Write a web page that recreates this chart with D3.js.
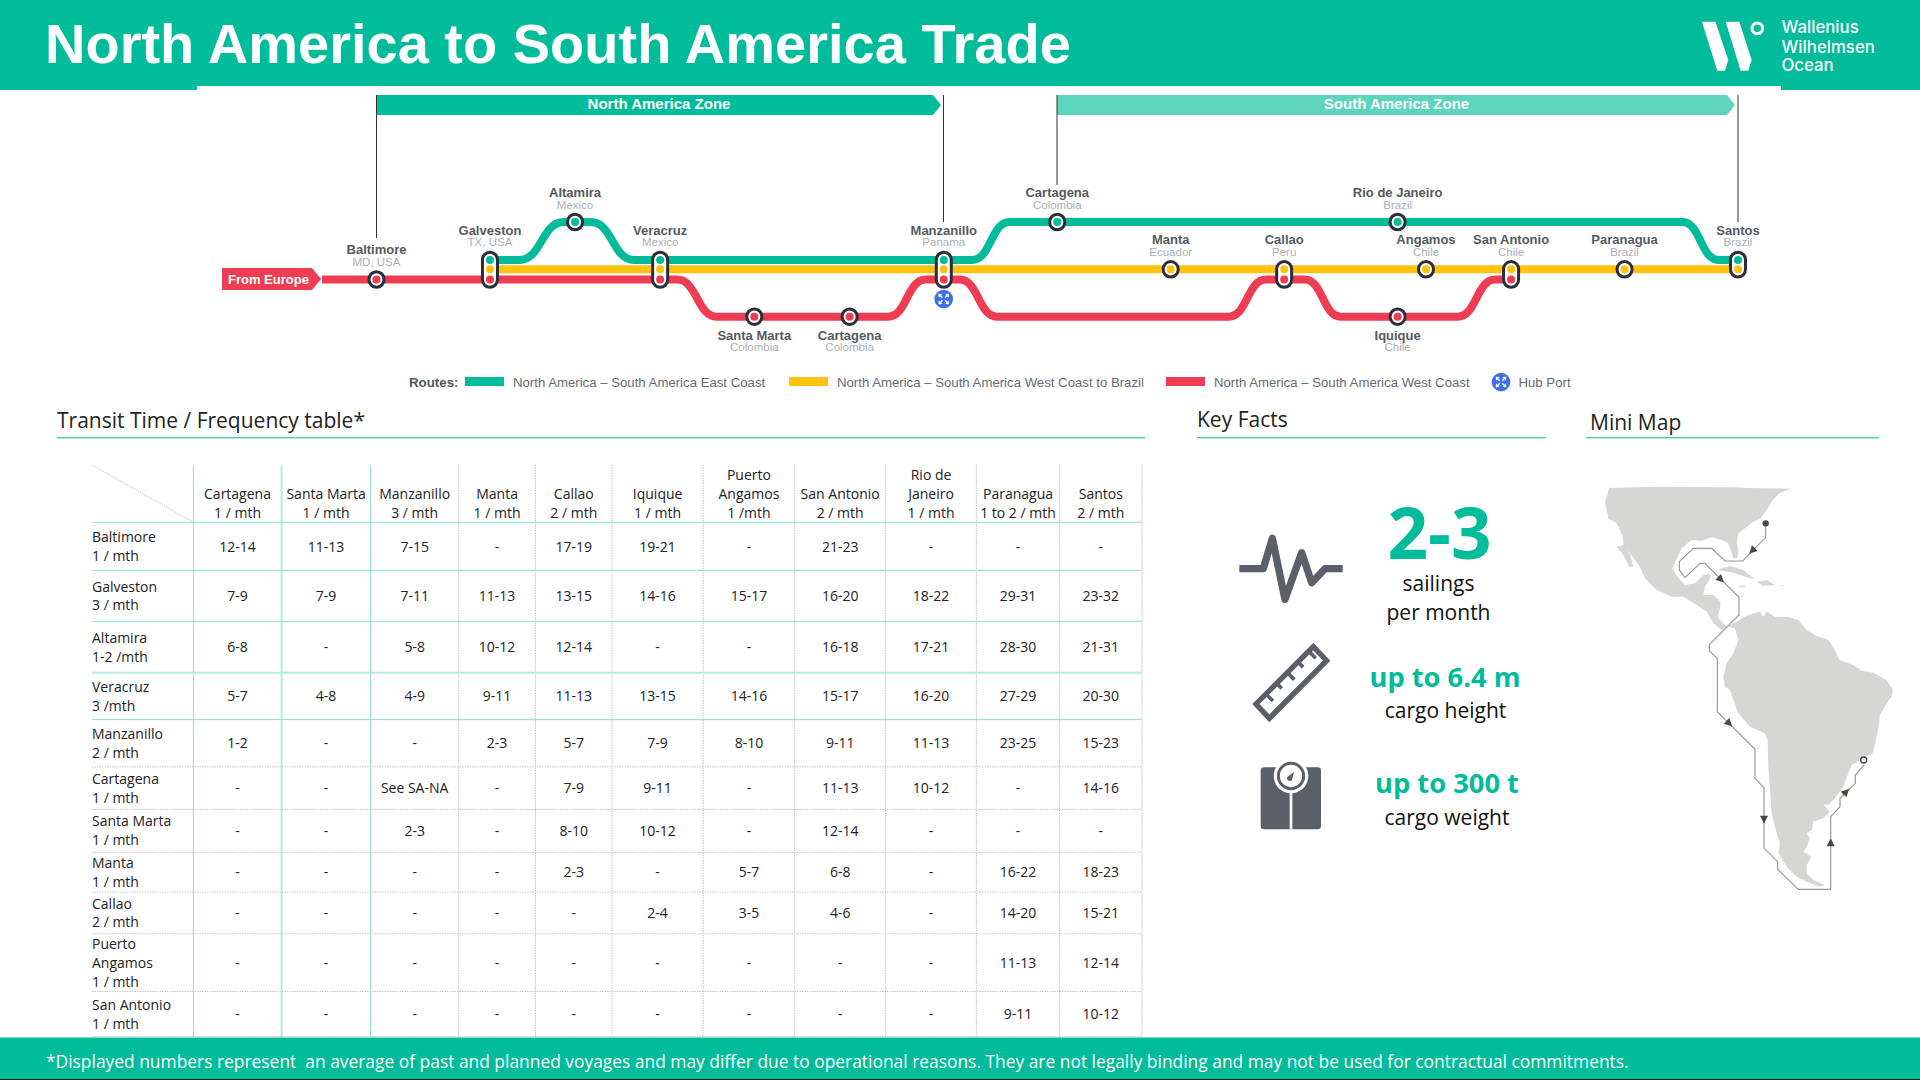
<!DOCTYPE html>
<html lang="en">
<head>
<meta charset="UTF-8">
<title>North America to South America Trade</title>
<script src="https://d3js.org/d3.v7.min.js"></script>
<style>
  html, body { margin: 0; padding: 0; background: #fff; }
  svg { display: block; }
  text { white-space: pre; }
  .arial { font-family: "Liberation Sans", Arial, sans-serif; }
  .open { font-family: "Open Sans", sans-serif; }
</style>
</head>
<body>
<svg id="chart" width="1920" height="1080"></svg>
<script>
// ---- route diagram data ----
const stopNames = ["Baltimore", "Galveston", "Altamira", "Veracruz", "Santa Marta", "Cartagena", "Manzanillo",
  "Cartagena", "Manta", "Callao", "Rio de Janeiro", "Angamos", "San Antonio", "Paranagua", "Santos", "Iquique"];
const stopCountries = ["MD, USA", "TX, USA", "Mexico", "Mexico", "Colombia", "Colombia", "Panama",
  "Colombia", "Ecuador", "Peru", "Brazil", "Chile", "Chile", "Brazil", "Brazil", "Chile"];
const stopSlots = [0, 1, 1.75, 2.5, 3.33, 4.17, 5, 6, 7, 8, 9, 9.25, 10, 11, 12, 9];
const stopLanes = [["red"], ["green", "yellow", "red"], ["high"], ["green", "yellow", "red"], ["low"], ["low"],
  ["green", "yellow", "red"], ["high"], ["yellow"], ["yellow", "red"], ["high"], ["yellow"], ["yellow", "red"],
  ["yellow"], ["green", "yellow"], ["low"]];
const stopLabelRows = ["base", "upper", "top", "upper", "below", "below", "upper",
  "top", "mid", "mid", "top", "mid", "mid", "mid", "upper", "below"];

const eastCoastRoute = [[1, "green"], [1.26, "green"], [1.65, "high"], [1.89, "high"], [2.27, "green"], [5.25, "green"],
  [5.58, "high"], [11.51, "high"], [11.83, "green"], [12, "green"]];
const brazilRoute = [[1, "yellow"], [12, "yellow"]];
const westCoastRoute = [[-0.48, "red"], [2.65, "red"], [3, "low"], [4.51, "low"], [4.84, "red"], [5.14, "red"],
  [5.47, "low"], [7.51, "low"], [7.84, "red"], [8.18, "red"], [8.5, "low"], [9.53, "low"], [9.86, "red"], [10, "red"]];

const legendLabels = ["North America – South America East Coast", "North America – South America West Coast to Brazil",
  "North America – South America West Coast"];

// ---- transit table data ----
const destinations = [["Cartagena", "1 / mth"], ["Santa Marta", "1 / mth"], ["Manzanillo", "3 / mth"], ["Manta", "1 / mth"],
  ["Callao", "2 / mth"], ["Iquique", "1 / mth"], ["Puerto", "Angamos", "1 /mth"], ["San Antonio", "2 / mth"],
  ["Rio de", "Janeiro", "1 / mth"], ["Paranagua", "1 to 2 / mth"], ["Santos", "2 / mth"]];
const origins = [["Baltimore", "1 / mth"], ["Galveston", "3 / mth"], ["Altamira", "1-2 /mth"], ["Veracruz", "3 /mth"],
  ["Manzanillo", "2 / mth"], ["Cartagena", "1 / mth"], ["Santa Marta", "1 / mth"], ["Manta", "1 / mth"], ["Callao", "2 / mth"],
  ["Puerto", "Angamos", "1 / mth"], ["San Antonio", "1 / mth"]];
const transitDays = [
  ["12-14", "11-13", "7-15", "-", "17-19", "19-21", "-", "21-23", "-", "-", "-"],
  ["7-9", "7-9", "7-11", "11-13", "13-15", "14-16", "15-17", "16-20", "18-22", "29-31", "23-32"],
  ["6-8", "-", "5-8", "10-12", "12-14", "-", "-", "16-18", "17-21", "28-30", "21-31"],
  ["5-7", "4-8", "4-9", "9-11", "11-13", "13-15", "14-16", "15-17", "16-20", "27-29", "20-30"],
  ["1-2", "-", "-", "2-3", "5-7", "7-9", "8-10", "9-11", "11-13", "23-25", "15-23"],
  ["-", "-", "See SA-NA", "-", "7-9", "9-11", "-", "11-13", "10-12", "-", "14-16"],
  ["-", "-", "2-3", "-", "8-10", "10-12", "-", "12-14", "-", "-", "-"],
  ["-", "-", "-", "-", "2-3", "-", "5-7", "6-8", "-", "16-22", "18-23"],
  ["-", "-", "-", "-", "-", "2-4", "3-5", "4-6", "-", "14-20", "15-21"],
  ["-", "-", "-", "-", "-", "-", "-", "-", "-", "11-13", "12-14"],
  ["-", "-", "-", "-", "-", "-", "-", "-", "-", "9-11", "10-12"]
];

// ---- mini map outline, in map units ----
const mapLand = [[58,24],[200,20],[428,22],[470,24],[604,26],[570,38],[548,60],[530,90],[512,115],[490,125],[465,145],[445,160],
  [440,190],[445,210],[442,235],[430,235],[422,210],[415,190],[395,180],[365,172],[335,182],[305,180],[275,205],[258,240],[248,265],
  [262,290],[285,315],[315,310],[340,285],[362,282],[358,300],[345,320],[340,345],[370,345],[392,365],[390,385],[383,410],[395,425],
  [410,440],[440,425],[460,412],[490,400],[510,395],[520,410],[530,395],[555,410],[600,412],[625,420],[650,450],[680,468],[715,480],
  [735,510],[748,540],[790,555],[815,572],[850,578],[890,600],[908,630],[905,650],[890,670],[870,705],[866,740],[858,780],[848,820],
  [820,835],[785,855],[775,880],[760,920],[735,955],[715,975],[700,972],[720,995],[700,1015],[670,1025],[665,1050],[650,1060],
  [660,1075],[650,1100],[640,1115],[665,1130],[650,1155],[650,1180],[670,1200],[705,1215],[690,1220],[650,1205],[620,1190],[590,1160],
  [565,1120],[570,1090],[560,1060],[545,1000],[540,930],[535,860],[533,780],[525,760],[480,740],[445,700],[430,660],[420,630],
  [405,620],[400,590],[410,550],[430,520],[445,480],[435,445],[415,440],[395,450],[370,430],[350,395],[320,375],[280,350],[245,350],
  [200,330],[165,295],[150,260],[120,220],[100,170],[80,130],[55,115],[45,65]];
const mapBaja = [[98,160],[110,190],[130,260],[118,262],[100,225],[80,200],[100,195]];
const mapCuba = [[385,268],[420,258],[460,270],[495,298],[465,290],[430,278],[395,272]];
const mapHispaniola = [[500,305],[530,300],[555,315],[520,318]];
const mapJamaica = [[445,318],[465,317],[465,322],[450,322]];
const mapPuertoRico = [[565,315],[582,316],[580,319]];
const voyageTrack = [[527,130],[527,172],[458,243],[405,243],[365,205],[310,205],[268,245],[268,270],[285,293],[330,250],[345,250],
  [447,352],[447,405],[358,494],[358,512],[382,536],[382,695],[495,808],[495,895],[522,923],[522,1105],[563,1145],[563,1168],
  [625,1228],[722,1228],[722,1010],[750,980],[750,955],[796,910],[796,885],[822,855]];
const voyageArrows = [[487,212,225],[392,298,135],[417,730,135],[522,1018,180],[722,1088,0],[768,936,45]];

// ---- colours ----
const teal = "#00BC9A", yellow = "#FFC20E", red = "#EE3D52", dark = "#2B2E38", iconGrey = "#5B5F67";
const laneColor = { green: teal, high: teal, yellow: yellow, red: red, low: red };

const svg = d3.select("#chart");

// ---- header and footer ----
svg.append("rect").attr("width", 1920).attr("height", 86).attr("fill", teal);
svg.append("rect").attr("width", 197).attr("height", 90).attr("fill", teal);
svg.append("rect").attr("x", 1781).attr("width", 139).attr("height", 90).attr("fill", teal);
svg.append("text").attr("class", "arial").attr("x", 45).attr("y", 63).attr("font-size", 56).attr("font-weight", 700)
  .attr("fill", "#fff").text("North America to South America Trade");

const logo = svg.append("g").attr("transform", "translate(1680,0) scale(0.3333)").attr("fill", "#fff");
logo.append("polygon").attr("points", "66,65 106,65 145,180 135,212 112,212");
logo.append("polygon").attr("points", "137,65 178,65 215,180 205,212 182,212");
logo.append("circle").attr("cx", 232).attr("cy", 85).attr("r", 16).attr("fill", "none").attr("stroke", "#fff").attr("stroke-width", 9);
["Wallenius", "Wilhelmsen", "Ocean"].forEach((t, i) => {
  svg.append("text").attr("x", 1781.5).attr("y", [33, 52.5, 70.5][i]).attr("font-family", "Inter, sans-serif").attr("font-size", 16.8)
    .attr("font-weight", 500).attr("fill", "#fff").text(t);
});

svg.append("rect").attr("y", 1037.5).attr("width", 1920).attr("height", 42.5).attr("fill", teal);
svg.append("rect").attr("y", 1079).attr("width", 1920).attr("height", 1).attr("fill", "#111");
svg.append("text").attr("class", "open").attr("x", 46).attr("y", 1068).attr("font-size", 17.4).attr("fill", "#fff")
  .text("*Displayed numbers represent  an average of past and planned voyages and may differ due to operational reasons. They are not legally binding and may not be used for contractual commitments.");

// ---- route diagram ----
const slotX = d3.scaleLinear().domain([0, 12]).range([376.5, 1738]);
const laneY = d3.scaleOrdinal().domain(["high", "green", "yellow", "red", "low"]).range([222, 260, 269.3, 279.5, 316.7]);
const labelY = d3.scaleOrdinal().domain(["top", "upper", "mid", "base", "below"]).range([196.7, 235, 244, 254, 340]);
const subLabelY = d3.scaleOrdinal().domain(["top", "upper", "mid", "base", "below"]).range([208.7, 246, 256, 266, 351]);

function zoneArrow(x0, x1, fill, label) {
  svg.append("polygon").attr("points", `${x0},95 ${x1 - 8},95 ${x1},105 ${x1 - 8},115 ${x0},115`).attr("fill", fill);
  svg.append("text").attr("class", "arial").attr("x", (x0 + x1) / 2 + 0.5).attr("y", 109).attr("text-anchor", "middle")
    .attr("font-size", 15).attr("font-weight", 700).attr("fill", "#fff").text(label);
}
zoneArrow(376, 941, teal, "North America Zone");
zoneArrow(1057, 1735, "#5DD4BC", "South America Zone");

[[376.5, 238], [943.5, 222], [1057, 185], [1738, 222]].forEach(d => {
  svg.append("line").attr("x1", d[0]).attr("x2", d[0]).attr("y1", 95).attr("y2", d[1]).attr("stroke", "#333").attr("stroke-width", 1);
});

const routeLine = d3.line().x(d => slotX(d[0])).y(d => laneY(d[1])).curve(d3.curveBumpX);
svg.selectAll("path.route")
  .data([[westCoastRoute, red], [brazilRoute, yellow], [eastCoastRoute, teal]])
  .enter().append("path")
  .attr("class", "route")
  .attr("d", d => routeLine(d[0]))
  .attr("fill", "none")
  .attr("stroke", d => d[1])
  .attr("stroke-width", 8);

// from europe tag
svg.append("polygon").attr("points", "222,268 312,268 321,279 312,290 222,290").attr("fill", red);
svg.append("text").attr("class", "arial").attr("x", 228).attr("y", 283.5).attr("font-size", 13).attr("font-weight", 700)
  .attr("fill", "#fff").text("From Europe");

function hubIcon(cx, cy) {
  const g = svg.append("g").attr("transform", `translate(${cx},${cy})`);
  g.append("circle").attr("r", 9.3).attr("fill", "#3B6FF0");
  [45, 135, 225, 315].forEach(a => {
    const h = g.append("g").attr("transform", `rotate(${a})`);
    h.append("line").attr("x1", 1.8).attr("x2", 5.5).attr("stroke", "#fff").attr("stroke-width", 1.4);
    h.append("polygon").attr("points", "7.5,0 4.5,-2.6 4.5,2.6").attr("fill", "#fff");
  });
}
hubIcon(943.7, 299);

// station markers
const stops = svg.selectAll("g.stop")
  .data(stopNames.map((name, i) => ({ name, country: stopCountries[i], slot: stopSlots[i], lanes: stopLanes[i], row: stopLabelRows[i] })))
  .enter().append("g").attr("class", "stop");
stops.append("rect")
  .attr("x", d => slotX(d.slot) - 7.5)
  .attr("y", d => laneY(d.lanes[0]) - 7.8)
  .attr("width", 15)
  .attr("height", d => laneY(d.lanes[d.lanes.length - 1]) - laneY(d.lanes[0]) + 15.6)
  .attr("rx", 7.5)
  .attr("fill", "#fff")
  .attr("stroke", dark)
  .attr("stroke-width", 3);
stops.selectAll("circle")
  .data(d => d.lanes.map(l => ({ lane: l, slot: d.slot })))
  .enter().append("circle")
  .attr("cx", d => slotX(d.slot))
  .attr("cy", d => laneY(d.lane))
  .attr("r", 4)
  .attr("fill", d => laneColor[d.lane]);
stops.append("text").attr("class", "arial")
  .attr("x", d => slotX(d.slot)).attr("y", d => labelY(d.row))
  .attr("text-anchor", "middle").attr("font-size", 13).attr("font-weight", 700).attr("fill", "#555A60")
  .text(d => d.name);
stops.append("text").attr("class", "arial")
  .attr("x", d => slotX(d.slot)).attr("y", d => subLabelY(d.row))
  .attr("text-anchor", "middle").attr("font-size", 11.5).attr("fill", "#ABAFB3")
  .text(d => d.country);

// legend
svg.append("text").attr("class", "arial").attr("x", 409).attr("y", 387).attr("font-size", 13.3).attr("font-weight", 700)
  .attr("fill", "#555A60").text("Routes:");
const legendSwatchX = d3.scaleOrdinal().domain(legendLabels).range([465, 789, 1166]);
legendLabels.forEach((label, i) => {
  svg.append("rect").attr("x", legendSwatchX(label)).attr("y", 377).attr("width", 39).attr("height", 9)
    .attr("fill", [teal, yellow, red][i]);
  svg.append("text").attr("class", "arial").attr("x", legendSwatchX(label) + 48).attr("y", 387).attr("font-size", 13.2)
    .attr("fill", "#666B70").text(label);
});
hubIcon(1501, 382);
svg.append("text").attr("class", "arial").attr("x", 1518.5).attr("y", 387).attr("font-size", 13.2).attr("fill", "#666B70").text("Hub Port");

// ---- section titles ----
[["Transit Time / Frequency table*", 57, 428, 57, 1145], ["Key Facts", 1197, 427, 1197, 1546], ["Mini Map", 1590, 430, 1586, 1879]]
  .forEach(d => {
    svg.append("text").attr("class", "open").attr("x", d[1]).attr("y", d[2]).attr("font-size", 21).attr("fill", "#222").text(d[0]);
    svg.append("line").attr("x1", d[3]).attr("x2", d[4]).attr("y1", 437.7).attr("y2", 437.7).attr("stroke", teal).attr("stroke-width", 1.1);
  });

// ---- table ----
const colEdges = [193.4, 281.6, 370.6, 458.7, 535.5, 612, 703.2, 794.6, 885.7, 976.4, 1059.6, 1142];
const rowEdges = [522.3, 570.4, 621.6, 672.8, 719.6, 766.9, 809.4, 852.3, 892.2, 933.8, 991.5, 1036.6];
const colMid = d3.scaleOrdinal().domain(d3.range(destinations.length)).range(d3.pairs(colEdges).map(p => (p[0] + p[1]) / 2));
const rowMid = d3.scaleOrdinal().domain(d3.range(origins.length)).range(d3.pairs(rowEdges).map(p => (p[0] + p[1]) / 2));
const lineGap = 18.9, tableTop = 465, tableLeft = 92;

const table = svg.append("g").attr("class", "open").attr("font-size", 14).attr("fill", "#222");

table.selectAll("line.v").data(colEdges).enter().append("line").attr("class", "v")
  .attr("x1", d => d).attr("x2", d => d).attr("y1", tableTop).attr("y2", 1037)
  .attr("stroke", (d, i) => i === 1 ? "#B5EBDF" : i < 3 ? "#8FE0CF" : "#C4C4C4")
  .attr("stroke-width", (d, i) => i === 1 ? 2 : 1)
  .attr("stroke-dasharray", (d, i) => i < 3 ? null : "1.5 1");
table.selectAll("line.h").data(rowEdges).enter().append("line").attr("class", "h")
  .attr("x1", tableLeft).attr("x2", 1142).attr("y1", d => d).attr("y2", d => d)
  .attr("stroke", (d, i) => i === 3 ? "#B5EBDF" : i < 5 ? "#8FE0CF" : "#C4C4C4")
  .attr("stroke-width", (d, i) => i === 3 ? 2 : 1)
  .attr("stroke-dasharray", (d, i) => i < 5 ? null : "1.5 1");
table.append("line").attr("x1", tableLeft).attr("y1", tableTop).attr("x2", colEdges[0]).attr("y2", rowEdges[0])
  .attr("stroke", "#C4C4C4").attr("stroke-dasharray", "1.5 1");

// column headers sit on the bottom of the header row
destinations.forEach((lines, c) => {
  lines.forEach((t, i) => {
    table.append("text").attr("x", colMid(c)).attr("y", 518 - (lines.length - 1 - i) * lineGap)
      .attr("text-anchor", "middle").text(t);
  });
});
// row headers, centred on their row
origins.forEach((lines, r) => {
  lines.forEach((t, i) => {
    table.append("text").attr("x", tableLeft).attr("y", rowMid(r) + 5 + (i - (lines.length - 1) / 2) * lineGap).text(t);
  });
});
table.selectAll("g.row").data(transitDays).enter().append("g").attr("class", "row")
  .each(function(row, r) {
    d3.select(this).selectAll("text").data(row).enter().append("text")
      .attr("x", (d, c) => colMid(c))
      .attr("y", rowMid(r) + 5.2)
      .attr("text-anchor", "middle")
      .text(d => d);
  });

// ---- key facts ----
const icons = svg.append("g").attr("transform", "translate(1230,500) scale(0.3333)");
icons.append("path").attr("d", "M28,206 L100,206 L127,115 L165,298 L215,158 L245,248 L285,206 L338,206")
  .attr("fill", "none").attr("stroke", iconGrey).attr("stroke-width", 22).attr("stroke-linejoin", "round");
icons.append("polygon").attr("points", "250,440 290,482 118,655 78,612")
  .attr("fill", "none").attr("stroke", iconGrey).attr("stroke-width", 16);
[[108,582,30],[140,550,22],[172,518,30],[204,486,22],[236,454,30]].forEach(d => {
  icons.append("line").attr("x1", d[0]).attr("y1", d[1]).attr("x2", d[0] + d[2] * 0.7).attr("y2", d[1] + d[2] * 0.7)
    .attr("stroke", iconGrey).attr("stroke-width", 11);
});
icons.append("rect").attr("x", 92).attr("y", 802).attr("width", 181).attr("height", 186).attr("rx", 10).attr("fill", iconGrey);
icons.append("rect").attr("x", 179).attr("y", 870).attr("width", 8).attr("height", 118).attr("fill", "#fff");
icons.append("circle").attr("cx", 183).attr("cy", 828).attr("r", 52).attr("fill", "#fff");
icons.append("circle").attr("cx", 183).attr("cy", 828).attr("r", 38).attr("fill", "#fff").attr("stroke", iconGrey).attr("stroke-width", 9);
icons.append("path").attr("d", "M192,815 L176,828 A8,8 0 1 0 187,836 Z").attr("fill", iconGrey);

const facts = svg.append("g").attr("class", "open").attr("text-anchor", "middle");
facts.append("text").attr("x", 1439.5).attr("y", 559).attr("font-size", 71).attr("font-weight", 700).attr("fill", teal).text("2-3");
facts.append("text").attr("x", 1438.5).attr("y", 591).attr("font-size", 21).attr("fill", "#111").text("sailings");
facts.append("text").attr("x", 1438.5).attr("y", 620).attr("font-size", 21).attr("fill", "#111").text("per month");
facts.append("text").attr("x", 1445).attr("y", 687).attr("font-size", 27.3).attr("font-weight", 700).attr("fill", teal).text("up to 6.4 m");
facts.append("text").attr("x", 1445.5).attr("y", 718).attr("font-size", 21).attr("fill", "#111").text("cargo height");
facts.append("text").attr("x", 1447).attr("y", 793).attr("font-size", 27.3).attr("font-weight", 700).attr("fill", teal).text("up to 300 t");
facts.append("text").attr("x", 1447).attr("y", 825).attr("font-size", 21).attr("fill", "#111").text("cargo weight");

// ---- mini map ----
const mapX = d3.scaleLinear().domain([0, 960]).range([1590, 1910]);
const mapY = d3.scaleLinear().domain([0, 1290]).range([480, 910]);
const mapLine = d3.line().x(d => mapX(d[0])).y(d => mapY(d[1]));
svg.selectAll("path.land")
  .data([mapLand, mapBaja, mapCuba, mapHispaniola, mapJamaica, mapPuertoRico])
  .enter().append("path").attr("class", "land")
  .attr("d", d => mapLine(d) + "Z")
  .attr("fill", "#D6D6D4");
svg.append("path").attr("d", mapLine(voyageTrack)).attr("fill", "none").attr("stroke", "#9A9A96").attr("stroke-width", 1.2);
svg.selectAll("polygon.arrow").data(voyageArrows).enter().append("polygon").attr("class", "arrow")
  .attr("points", "0,-4.5 4,3.5 -4,3.5")
  .attr("transform", d => `translate(${mapX(d[0])},${mapY(d[1])}) rotate(${d[2]})`)
  .attr("fill", "#4A4A44");
svg.append("circle").attr("cx", mapX(527)).attr("cy", mapY(130)).attr("r", 3.2).attr("fill", "#4A4A44");
svg.append("circle").attr("cx", mapX(821)).attr("cy", mapY(840)).attr("r", 3).attr("fill", "#fff").attr("stroke", "#4A4A44").attr("stroke-width", 1.4);
</script>
</body>
</html>
